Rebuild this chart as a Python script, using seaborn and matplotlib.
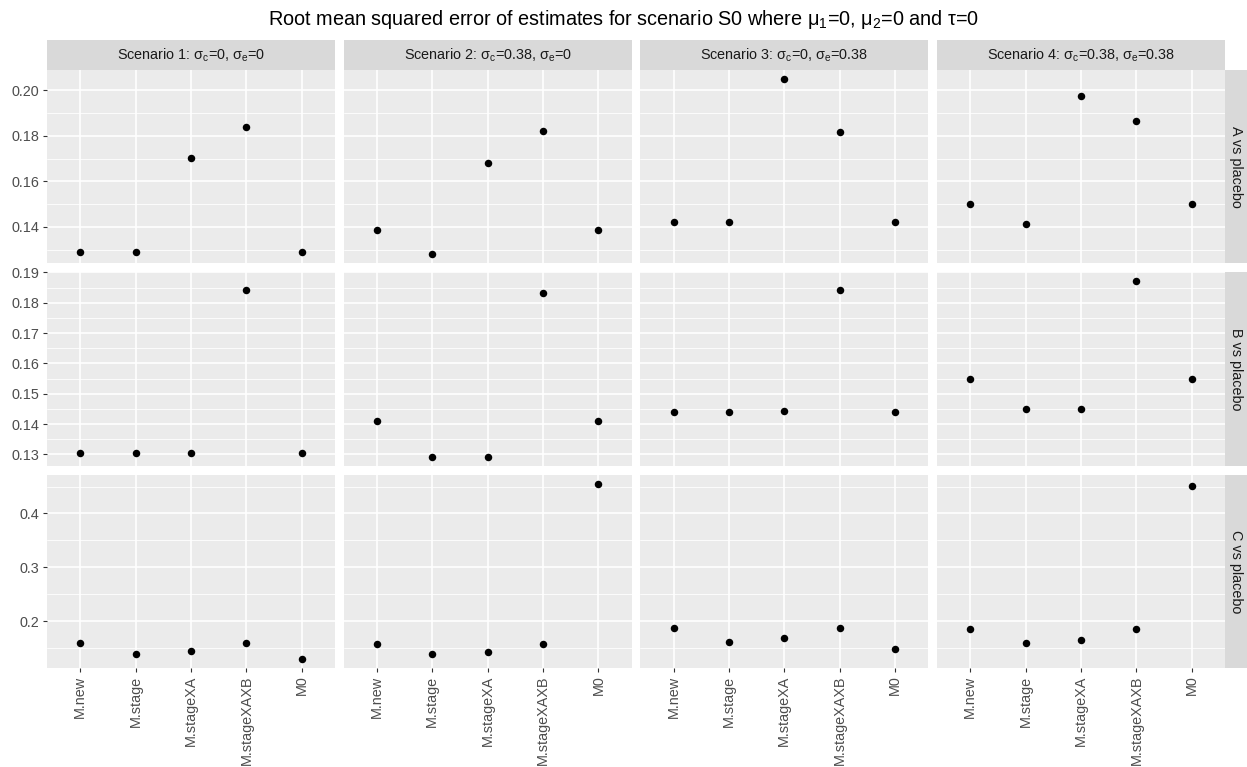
# RMSE of estimates, scenario S0 - faceted dot plot (ggplot look)

import pandas as pd
import matplotlib.pyplot as plt
import seaborn as sns
from matplotlib.patches import Rectangle
from matplotlib.ticker import FixedLocator

models = ['M.new', 'M.stage', 'M.stageXA', 'M.stageXAXB', 'M0']
scenarios = [
    'Scenario 1: σ$_\\mathregular{c}$=0, σ$_\\mathregular{e}$=0',
    'Scenario 2: σ$_\\mathregular{c}$=0.38, σ$_\\mathregular{e}$=0',
    'Scenario 3: σ$_\\mathregular{c}$=0, σ$_\\mathregular{e}$=0.38',
    'Scenario 4: σ$_\\mathregular{c}$=0.38, σ$_\\mathregular{e}$=0.38',
]
comparisons = ['A vs placebo', 'B vs placebo', 'C vs placebo']

# rmse per model, one list per scenario
rmse_a = [
    [0.1289, 0.1290, 0.1703, 0.1838, 0.1289],
    [0.1388, 0.1279, 0.1682, 0.1820, 0.1388],
    [0.1420, 0.1423, 0.2051, 0.1815, 0.1420],
    [0.1502, 0.1412, 0.1974, 0.1864, 0.1502],
]
rmse_b = [
    [0.1305, 0.1306, 0.1305, 0.1842, 0.1305],
    [0.1411, 0.1292, 0.1293, 0.1831, 0.1411],
    [0.1440, 0.1441, 0.1442, 0.1843, 0.1440],
    [0.1548, 0.1449, 0.1449, 0.1870, 0.1548],
]
rmse_c = [
    [0.1593, 0.1400, 0.1444, 0.1593, 0.1296],
    [0.1580, 0.1400, 0.1437, 0.1580, 0.4556],
    [0.1882, 0.1623, 0.1697, 0.1882, 0.1481],
    [0.1863, 0.1598, 0.1659, 0.1863, 0.4519],
]

# y breaks per row
ticks_a = [0.14, 0.16, 0.18, 0.20]
ticks_b = [0.13, 0.14, 0.15, 0.16, 0.17, 0.18, 0.19]
ticks_c = [0.2, 0.3, 0.4]
labels_a = ['0.14', '0.16', '0.18', '0.20']
labels_b = ['0.13', '0.14', '0.15', '0.16', '0.17', '0.18', '0.19']
labels_c = ['0.2', '0.3', '0.4']

rows = []
for comp, block in zip(comparisons, [rmse_a, rmse_b, rmse_c]):
    for scen, vals in zip(scenarios, block):
        for m, v in zip(models, vals):
            rows.append({'comparison': comp, 'scenario': scen, 'model': m, 'rmse': v})
df = pd.DataFrame(rows)

sns.set_theme(style='darkgrid', rc={
    'axes.facecolor': '#EBEBEB',
    'grid.color': 'white',
    'figure.facecolor': 'white',
})
plt.rcParams['font.family'] = ['Liberation Sans', 'DejaVu Sans']
plt.rcParams['mathtext.fontset'] = 'custom'
plt.rcParams['mathtext.rm'] = 'Liberation Sans'

g = sns.FacetGrid(df, row='comparison', col='scenario', row_order=comparisons,
                  col_order=scenarios, sharex=True, sharey='row', despine=False)
g.map_dataframe(sns.stripplot, x='model', y='rmse', order=models, jitter=False,
                color='black', size=5.4, linewidth=0)

fig = g.figure
fig.set_size_inches(12.47, 7.67)
W, H = 1247, 767
fig.subplots_adjust(left=47 / W, right=1225 / W, top=1 - 70 / H, bottom=1 - 668 / H,
                    wspace=0.030, hspace=0.047)

row_ticks = [(ticks_a, labels_a), (ticks_b, labels_b), (ticks_c, labels_c)]
row_data = [rmse_a, rmse_b, rmse_c]

for i in range(3):
    vals = [v for s in row_data[i] for v in s]
    lo, hi = min(vals), max(vals)
    pad = (hi - lo) * 0.05
    tk, lb = row_ticks[i]
    minor = [t - (tk[1] - tk[0]) / 2 for t in tk] + [tk[-1] + (tk[1] - tk[0]) / 2]
    for j in range(4):
        ax = g.axes[i, j]
        ax.set_title('')
        ax.set_xlabel('')
        ax.set_ylabel('')
        ax.set_xlim(-0.6, len(models) - 0.4)
        ax.set_ylim(lo - pad, hi + pad)
        ax.set_yticks(tk)
        ax.yaxis.set_minor_locator(FixedLocator(minor))
        ax.grid(True, which='major', axis='both', color='white', linewidth=1.2)
        ax.grid(True, which='minor', axis='y', color='white', linewidth=0.6)
        ax.set_axisbelow(True)
        for sp in ax.spines.values():
            sp.set_visible(False)
        ax.tick_params(which='minor', length=0)
        ax.tick_params(which='major', direction='out', length=2.9, width=0.8,
                       color='#333333', labelcolor='#4D4D4D', labelsize=10.4, pad=2.5,
                       left=(j == 0), bottom=(i == 2))
        if j == 0:
            ax.set_yticklabels(lb)
        if i == 2:
            ax.set_xticks(range(len(models)))
            ax.set_xticklabels(models, rotation=90)

        # top strips
        if i == 0:
            sh = 30 / 193.3
            ax.add_patch(Rectangle((0, 1), 1, sh, transform=ax.transAxes, clip_on=False,
                                   facecolor='#D9D9D9', edgecolor='none'))
            ax.text(0.5, 1 + sh / 2, scenarios[j], transform=ax.transAxes, ha='center',
                    va='center', fontsize=10.4, color='#1A1A1A')
        # right strips
        if j == 3:
            sw = 22 / 288
            ax.add_patch(Rectangle((1, 0), sw, 1, transform=ax.transAxes, clip_on=False,
                                   facecolor='#D9D9D9', edgecolor='none'))
            ax.text(1 + sw / 2, 0.5, comparisons[i], transform=ax.transAxes, ha='center',
                    va='center', rotation=-90, fontsize=10.4, color='#1A1A1A')

fig.suptitle('Root mean squared error of estimates for scenario S0 where '
             'μ$_\\mathregular{1}$=0, μ$_\\mathregular{2}$=0 and τ=0',
             x=0.5, y=1 - 8 / H, va='top', fontsize=14.3, color='black')

fig.savefig('out.png', dpi=100)
